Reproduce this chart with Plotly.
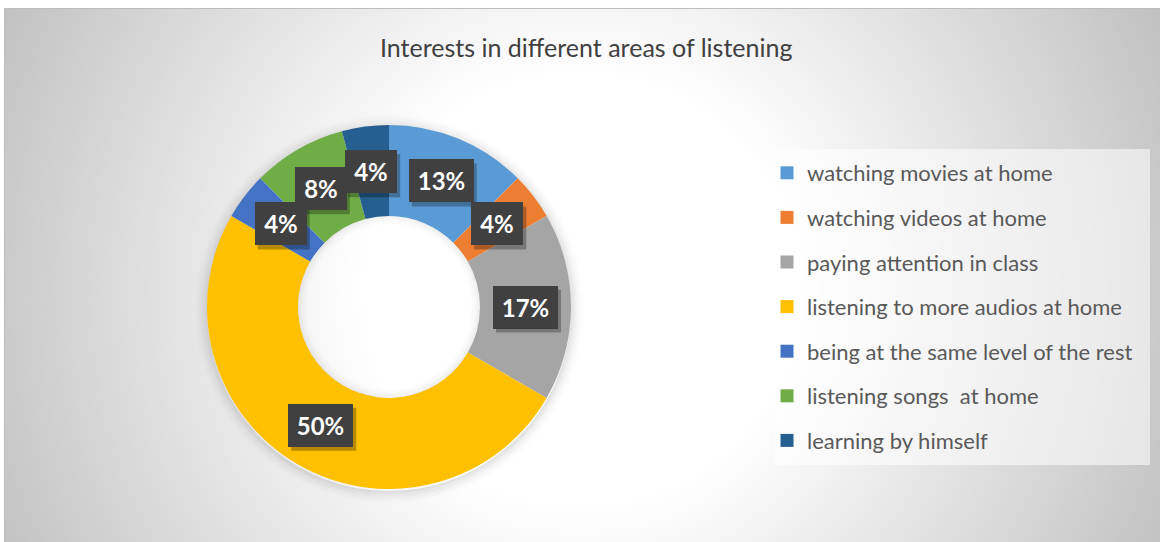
import math
import numpy as np
import plotly.graph_objects as go

# ---------------- data ----------------
categories = [
    "watching movies at home",
    "watching videos at home",
    "paying attention in class",
    "listening to more audios at home",
    "being at the same level of the rest",
    "listening songs  at home",
    "learning by himself",
]
counts = [3, 1, 4, 12, 1, 2, 1]
colors = ["#5B9BD5", "#ED7D31", "#A5A5A5", "#FFC000", "#4472C4", "#70AD47", "#255E91"]
title_text = "Interests in different areas of listening"

# ---------------- geometry ----------------
W, H = 1160, 542
def fx(px):
    return px / W
def fy(py):
    return 1 - py / H

CX, CY, R = 389, 307, 182   # donut centre / radius in pixels
HOLE = 0.5

FONT = "Lato"

fig = go.Figure()

fig.add_trace(go.Pie(
    labels=categories,
    values=counts,
    sort=False,
    direction="clockwise",
    rotation=0,
    hole=HOLE,
    marker=dict(colors=colors, line=dict(width=0)),
    textinfo="none",
    hoverinfo="label+percent",
    showlegend=False,
    domain=dict(x=[fx(CX - R), fx(CX + R)], y=[fy(CY + R), fy(CY - R)]),
))

# legend built from marker-only traces (one group per entry for spacing)
for cat, col in zip(categories, colors):
    fig.add_trace(go.Scatter(
        x=[None], y=[None], mode="markers", name=cat,
        marker=dict(symbol="square", size=13, color=col),
        legendgroup=cat, showlegend=True, hoverinfo="skip",
    ))

shapes = []
# background radial gradient (approximated with concentric circles)
GX, GY = 580, 290
for d in range(720, 214, -3):
    g = 255 - 0.145 * (d - 217)
    g = int(round(max(186, min(255, g))))
    shapes.append(dict(type="circle", xref="paper", yref="paper",
                       x0=fx(GX - d), x1=fx(GX + d), y0=fy(GY + d), y1=fy(GY - d),
                       fillcolor=f"rgb({g},{g},{g})", line=dict(width=0), layer="below"))
# white strips outside chart area
shapes.append(dict(type="rect", xref="paper", yref="paper", x0=0, x1=1, y0=fy(8), y1=1.01,
                   fillcolor="white", line=dict(width=0), layer="below"))
shapes.append(dict(type="rect", xref="paper", yref="paper", x0=-0.01, x1=fx(4), y0=-0.01, y1=1.01,
                   fillcolor="white", line=dict(width=0), layer="below"))
# chart border
shapes.append(dict(type="rect", xref="paper", yref="paper", x0=fx(4.5), x1=fx(1165), y0=fy(550), y1=fy(8.5),
                   fillcolor="rgba(0,0,0,0)", line=dict(width=1, color="#bdbdbd"), layer="below"))
# donut soft outer shadow (rings only)
for k in range(16):
    r = R + 0.5 + k
    a = 0.10 * (1 - k / 16) ** 2
    shapes.append(dict(type="circle", xref="paper", yref="paper",
                       x0=fx(CX - r), x1=fx(CX + r), y0=fy(CY + r + 2), y1=fy(CY - r + 2),
                       fillcolor="rgba(0,0,0,0)", line=dict(width=1.2, color=f"rgba(0,0,0,{a:.4f})"),
                       layer="below"))
# inner shadow in hole
rh = R * HOLE
for k in range(12):
    r = rh - 0.5 - k
    a = 0.06 * (1 - k / 12) ** 2
    shapes.append(dict(type="circle", xref="paper", yref="paper",
                       x0=fx(CX - r), x1=fx(CX + r), y0=fy(CY + r), y1=fy(CY - r),
                       fillcolor="rgba(0,0,0,0)", line=dict(width=1.2, color=f"rgba(0,0,0,{a:.4f})"),
                       layer="above"))
# legend box
shapes.append(dict(type="rect", xref="paper", yref="paper", x0=fx(775), x1=fx(1150), y0=fy(465), y1=fy(149),
                   fillcolor="rgba(255,255,255,0.55)", line=dict(width=0), layer="below"))

# data labels from values
vals = np.array(counts, dtype=float)
total = vals.sum()
ends = np.cumsum(vals) / total * 360.0
starts = ends - vals / total * 360.0
mids = np.radians((starts + ends) / 2)
rl = R * (1 + HOLE) / 2
annotations = []
for v, a in zip(vals, mids):
    pct = math.floor(v / total * 100 + 0.5)
    txt = f"{pct}%"
    px = CX + rl * math.sin(a)
    py = CY - rl * math.cos(a)
    w = 13 * len(txt) + 16
    bw, bh = w + 10, 33 + 10
    # drop shadow of the label box
    shapes.append(dict(type="rect", xref="paper", yref="paper",
                       x0=fx(px - bw / 2 + 3), x1=fx(px + bw / 2 + 3),
                       y0=fy(py + bh / 2 + 4), y1=fy(py - bh / 2 + 4),
                       fillcolor="rgba(0,0,0,0.28)", line=dict(width=0), layer="above"))
    annotations.append(dict(x=fx(px), y=fy(py), xref="paper", yref="paper", showarrow=False,
                            xanchor="center", yanchor="middle", width=w, height=33, borderpad=4,
                            text=txt, bgcolor="#404040", bordercolor="#404040", borderwidth=1,
                            font=dict(family=FONT, size=24, color="white", weight="bold")))

annotations.append(dict(x=fx(586), y=fy(47), xref="paper", yref="paper", showarrow=False,
                        xanchor="center", yanchor="middle", text=title_text,
                        font=dict(family=FONT, size=25, color="#404040")))

fig.update_layout(
    width=W, height=H,
    margin=dict(l=0, r=0, t=0, b=0),
    paper_bgcolor="white",
    plot_bgcolor="rgba(0,0,0,0)",
    xaxis=dict(visible=False, domain=[0.99, 1]),
    yaxis=dict(visible=False, domain=[0.99, 1]),
    shapes=shapes,
    annotations=annotations,
    showlegend=True,
    legend=dict(x=fx(767), y=fy(152), xanchor="left", yanchor="top",
                bgcolor="rgba(0,0,0,0)", font=dict(family=FONT, size=22, color="#595959"),
                tracegroupgap=13, itemclick=False, itemdoubleclick=False),
)

fig.write_html("out.html", config={"displayModeBar": False},
               post_script="document.body.style.margin='0px';")
